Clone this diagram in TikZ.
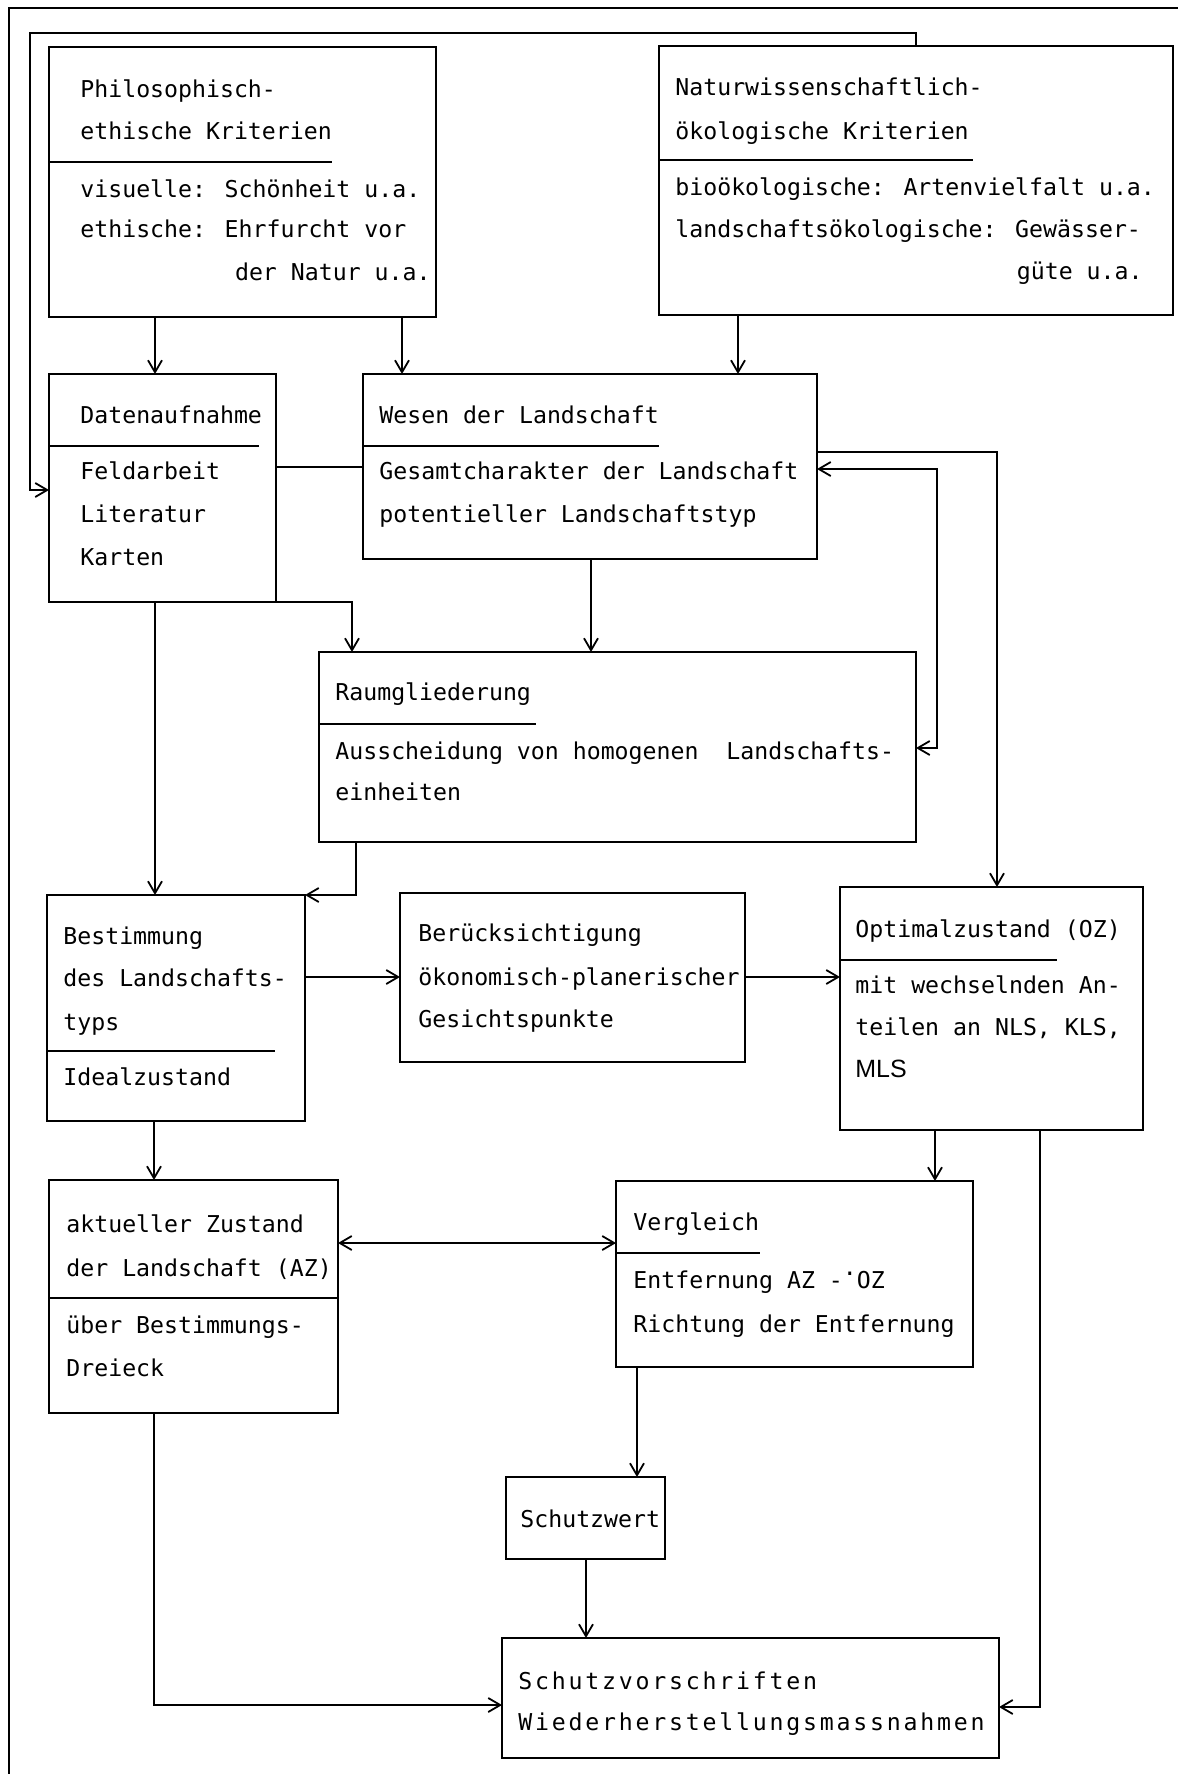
\documentclass[tikz,border=0pt]{standalone}
\usepackage{fontspec}
\newfontfamily\tw{DejaVu Sans Mono}
\newfontfamily\twwide[LetterSpace=12]{DejaVu Sans Mono}
\newfontfamily\msans{Liberation Sans}
\usetikzlibrary{arrows.meta}
\tikzset{
  box/.style={draw, rectangle, inner sep=0pt, outer sep=0pt, line width=0.9pt},
  tx/.style={anchor=base west, inner sep=0pt, font=\tw\fontsize{11.6}{21}\selectfont},
  txr/.style={tx, anchor=base east},
  sep/.style={line width=0.9pt},
  conn/.style={line width=0.9pt},
  arr/.style={conn, -{Straight Barb[length=6pt,width=7pt]}},
  arrboth/.style={conn, {Straight Barb[length=6pt,width=7pt]}-{Straight Barb[length=6pt,width=7pt]}},
  frame/.style={line width=1.3pt}
}
\newcommand\mkbox[5]{\node[box, minimum width={(#4-#2)*0.5pt}, minimum height={(#5-#3)*0.5pt}] (#1) at ({(#2+#4)/2},{(#3+#5)/2}) {};}
\newcommand\tline[4]{\node[tx] (#1) at (#2,#3) {#4};}
\begin{document}
\begin{tikzpicture}[x=0.5pt, y=-0.5pt]
\useasboundingbox (0,0) rectangle (1178,1774);
% outer frame
\coordinate (fr1) at (9,1774);
\coordinate (fr2) at (9,8);
\coordinate (fr3) at (1178,8);
\draw[frame] (fr1) -- (fr2) -- (fr3);

% boxes
\mkbox{philo}{49}{47}{436}{317}
\mkbox{natur}{659}{46}{1173}{315}
\mkbox{daten}{49}{374}{276}{602}
\mkbox{wesen}{363}{374}{817}{559}
\mkbox{raum}{319}{652}{916}{842}
\mkbox{best}{47}{895}{305}{1121}
\mkbox{berueck}{400}{893}{745}{1062}
\mkbox{opt}{840}{887}{1143}{1130}
\mkbox{akt}{49}{1180}{338}{1413}
\mkbox{vergl}{616}{1181}{973}{1367}
\mkbox{schutzw}{506}{1477}{665}{1559}
\mkbox{schutzv}{502}{1638}{999}{1758}

% separators
\coordinate (sp1) at (332,162); \draw[sep] (philo.west |- sp1) -- (sp1);
\coordinate (sp2) at (973,160); \draw[sep] (natur.west |- sp2) -- (sp2);
\coordinate (sp3) at (259,446); \draw[sep] (daten.west |- sp3) -- (sp3);
\coordinate (sp4) at (659,446); \draw[sep] (wesen.west |- sp4) -- (sp4);
\coordinate (sp5) at (536,724); \draw[sep] (raum.west |- sp5) -- (sp5);
\coordinate (sp6) at (275,1051); \draw[sep] (best.west |- sp6) -- (sp6);
\coordinate (sp7) at (1057,960); \draw[sep] (opt.west |- sp7) -- (sp7);
\coordinate (sp8) at (338,1298); \draw[sep] (akt.west |- sp8) -- (akt.east |- sp8);
\coordinate (sp9) at (760,1253); \draw[sep] (vergl.west |- sp9) -- (sp9);

% texts
\tline{p1}{80}{97}{Philosophisch-}
\tline{p2}{80}{139}{ethische Kriterien}
\tline{p3}{80}{197}{visuelle: Schönheit u.a.}
\tline{p4}{80}{237}{ethische: Ehrfurcht vor}
\node[txr] (p5) at (431,280) {der Natur u.a.};

\tline{n1}{675}{95}{Naturwissenschaftlich-}
\tline{n2}{675}{139}{ökologische Kriterien}
\tline{n3}{675}{195}{bioökologische: Artenvielfalt u.a.}
\tline{n4}{675}{237}{landschaftsökologische: Gewässer-}
\node[txr] (n5) at (1143,279) {güte u.a.};

\tline{d1}{80}{423}{Datenaufnahme}
\tline{d2}{80}{479}{Feldarbeit}
\tline{d3}{80}{522}{Literatur}
\tline{d4}{80}{565}{Karten}

\tline{w1}{379}{423}{Wesen der Landschaft}
\tline{w2}{379}{479}{Gesamtcharakter der Landschaft}
\tline{w3}{379}{522}{potentieller Landschaftstyp}

\tline{r1}{335}{700}{Raumgliederung}
\tline{r2}{335}{759}{Ausscheidung von homogenen\ \ Landschafts-}
\tline{r3}{335}{800}{einheiten}

\tline{b1}{63}{944}{Bestimmung}
\tline{b2}{63}{986}{des Landschafts-}
\tline{b3}{63}{1030}{typs}
\tline{b4}{63}{1085}{Idealzustand}

\tline{g1}{418}{941}{Berücksichtigung}
\tline{g2}{418}{985}{ökonomisch-planerischer}
\tline{g3}{418}{1027}{Gesichtspunkte}

\tline{o1}{855}{937}{Optimalzustand (OZ)}
\tline{o2}{855}{993}{mit wechselnden An-}
\tline{o3}{855}{1035}{teilen an NLS, KLS,}
\node[tx, font=\msans\fontsize{12.5}{21}\selectfont] (o4) at (855,1077) {MLS};

\tline{a1}{66}{1232}{aktueller Zustand}
\tline{a2}{66}{1276}{der Landschaft (AZ)}
\tline{a3}{66}{1333}{über Bestimmungs-}
\tline{a4}{66}{1376}{Dreieck}

\tline{v1}{633}{1230}{Vergleich}
\tline{v2}{633}{1288}{Entfernung AZ -\makebox[0pt][l]{\raisebox{0.55em}{.}}\ OZ}
\tline{v3}{633}{1332}{Richtung der Entfernung}

\tline{s1}{520}{1527}{Schutzwert}

\node[tx, font=\twwide\fontsize{11.6}{21}\selectfont] (z1) at (518,1689) {Schutzvorschriften};
\node[tx, font=\twwide\fontsize{11.6}{21}\selectfont] (z2) at (518,1730) {Wiederherstellungsmassnahmen};

% connector coordinates
\coordinate (fbtop) at (916,33);
\coordinate (fbleft) at (30,490);
\coordinate (xa) at (155,0);
\coordinate (xb) at (402,0);
\coordinate (xc) at (738,0);
\coordinate (yd) at (0,467);
\coordinate (xe) at (352,0);
\coordinate (xf) at (591,0);
\coordinate (yg) at (0,452);
\coordinate (cg) at (997,452);
\coordinate (yh) at (0,469);
\coordinate (ch) at (937,748);
\coordinate (xi) at (356,0);
\coordinate (yj) at (0,977);
\coordinate (xk) at (935,0);
\coordinate (yl) at (0,1243);
\coordinate (xm) at (637,0);
\coordinate (xn) at (586,0);
\coordinate (co) at (154,1705);
\coordinate (cp) at (1040,1707);

% connectors
\draw[arr] (natur.north -| fbtop) -- (fbtop) -| (fbleft) -- (daten.west |- fbleft);
\draw[arr] (philo.south -| xa) -- (daten.north -| xa);
\draw[arr] (philo.south -| xb) -- (wesen.north -| xb);
\draw[arr] (natur.south -| xc) -- (wesen.north -| xc);
\draw[conn] (daten.east |- yd) -- (wesen.west |- yd);
\draw[arr] (daten.south east) -| (raum.north -| xe);
\draw[arr] (wesen.south -| xf) -- (raum.north -| xf);
\draw[arr] (wesen.east |- yg) -- (cg) -- (opt.north -| cg);
\draw[arrboth] (wesen.east |- yh) -| (ch) -- (raum.east |- ch);
\draw[arr] (daten.south -| xa) -- (best.north -| xa);
\draw[arr] (raum.south -| xi) |- (best.north east);
\draw[arr] (best.east |- yj) -- (berueck.west |- yj);
\draw[arr] (berueck.east |- yj) -- (opt.west |- yj);
\draw[arr] (best.south -| co) -- (akt.north -| co);
\draw[arr] (opt.south -| xk) -- (vergl.north -| xk);
\draw[arrboth] (akt.east |- yl) -- (vergl.west |- yl);
\draw[arr] (vergl.south -| xm) -- (schutzw.north -| xm);
\draw[arr] (schutzw.south -| xn) -- (schutzv.north -| xn);
\draw[arr] (akt.south -| co) -- (co) -- (schutzv.west |- co);
\draw[arr] (opt.south -| cp) -- (cp) -- (schutzv.east |- cp);
\end{tikzpicture}
\end{document}
